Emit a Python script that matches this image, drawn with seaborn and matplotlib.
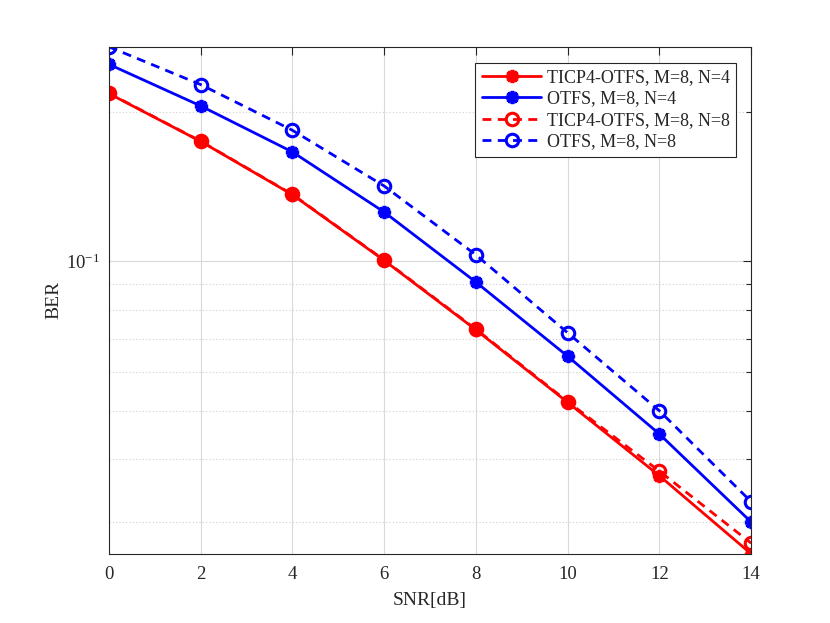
import numpy as np
import pandas as pd
import seaborn as sns
import matplotlib
matplotlib.use("Agg")
import matplotlib.pyplot as plt
from matplotlib.ticker import LogLocator, LogFormatterSciNotation, NullFormatter

# SNR points and BER curves
snr = [0, 2, 4, 6, 8, 10, 12, 14]
ber_ticp_n4 = [0.2175, 0.1743, 0.1362, 0.1005, 0.0729, 0.0521, 0.0371, 0.02585]
ber_otfs_n4 = [0.249, 0.2054, 0.166, 0.1257, 0.0909, 0.0645, 0.0450, 0.02995]
ber_ticp_n8 = [0.2178, 0.1745, 0.1364, 0.1007, 0.0731, 0.0523, 0.0379, 0.02716]
ber_otfs_n8 = [0.270, 0.2267, 0.1835, 0.1418, 0.1031, 0.0719, 0.0501, 0.0329]
labels = ["TICP4-OTFS, M=8, N=4", "OTFS, M=8, N=4",
          "TICP4-OTFS, M=8, N=8", "OTFS, M=8, N=8"]

sns.set_style("white")
plt.rcParams["font.family"] = ["Liberation Serif", "DejaVu Serif"]
plt.rcParams["mathtext.fontset"] = "custom"
plt.rcParams["mathtext.rm"] = "Liberation Serif"
plt.rcParams["mathtext.it"] = "Liberation Serif:italic"

fig = plt.figure(figsize=(8.3, 6.23), dpi=100)
ax = fig.add_axes([0.131, 0.111, 0.774, 0.814])

star = (8, 2, 0)
dash = (0, (3.2, 2.3))
series = [
    (ber_ticp_n4, "red", star, "-"),
    (ber_otfs_n4, "blue", star, "-"),
    (ber_ticp_n8, "red", "o", dash),
    (ber_otfs_n8, "blue", "o", dash),
]
for (vals, col, mk, ls), lab in zip(series, labels):
    df = pd.DataFrame({"SNR": snr, "BER": vals})
    sns.lineplot(data=df, x="SNR", y="BER", ax=ax, color=col, label=lab,
                 marker=mk, markersize=9 if mk == "o" else 9.5,
                 markeredgewidth=2.2 if mk == "o" else 2.6,
                 markerfacecolor="none" if mk == "o" else col,
                 markeredgecolor=col, linewidth=2, linestyle=ls)

ax.set_yscale("log")
ax.set_xlim(0, 14)
ax.set_ylim(0.02585, 0.270)
ax.set_xticks(snr)
ax.yaxis.set_major_locator(LogLocator(base=10))
ax.yaxis.set_major_formatter(LogFormatterSciNotation())
ax.yaxis.set_minor_locator(LogLocator(base=10, subs=np.arange(2, 10)))
ax.yaxis.set_minor_formatter(NullFormatter())

ax.grid(which="major", color="#d9d9d9", linewidth=0.8, linestyle="-")
ax.grid(which="minor", axis="y", color="#cfcfcf", linewidth=0.8, linestyle=(0, (1, 2)))
ax.set_axisbelow(True)

for sp in ax.spines.values():
    sp.set_color("#262626")
    sp.set_linewidth(0.8)
ax.tick_params(which="both", direction="in", top=True, right=True,
               colors="#262626", labelsize=13.5)
ax.tick_params(axis="x", pad=9)
ax.tick_params(axis="y", pad=6)
ax.tick_params(which="major", length=6, width=0.8)
ax.tick_params(which="minor", length=3.5, width=0.8)

ax.set_xlabel("SNR[dB]", fontsize=14, color="#262626", labelpad=6)
ax.set_ylabel("BER", fontsize=14, color="#262626", labelpad=3)

leg = ax.legend(loc="upper right", bbox_to_anchor=(0.9766, 0.9685),
                borderaxespad=0, fontsize=13, frameon=True, fancybox=False,
                edgecolor="#262626", framealpha=1, handlelength=3.3,
                handletextpad=0.3, labelspacing=0.25, borderpad=0.35)
leg.get_frame().set_linewidth(0.8)

fig.savefig("out.png", dpi=100)
